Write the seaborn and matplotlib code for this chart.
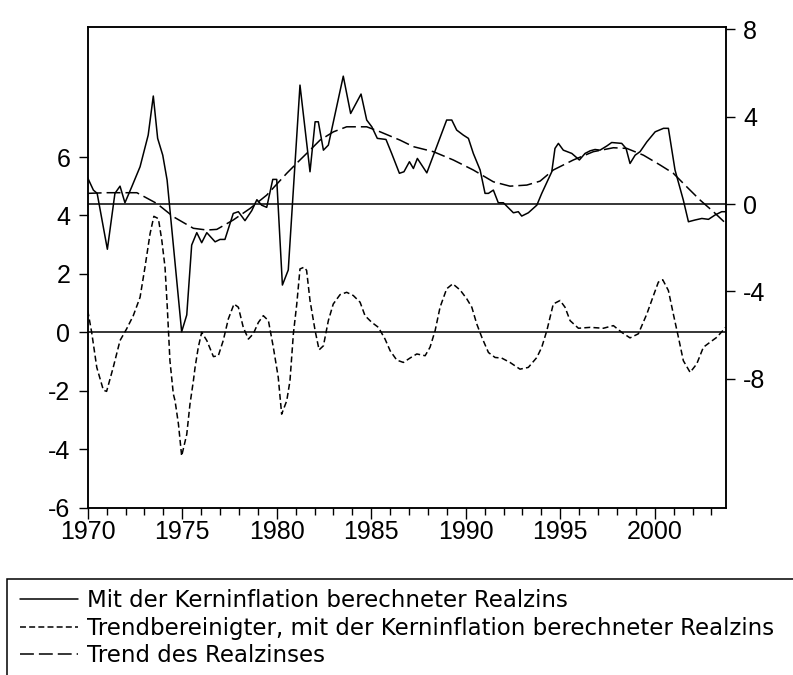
import pandas as pd
import seaborn as sns
import matplotlib.pyplot as plt
from matplotlib.lines import Line2D
from matplotlib.patches import Rectangle

# Mit der Kerninflation berechneter Realzins (rechte Achse)
real_t = [1970.0, 1970.3, 1970.5, 1971.04, 1971.44, 1971.71, 1971.97, 1972.33, 1972.77,
          1973.2, 1973.47, 1973.7, 1973.97, 1974.2, 1974.97, 1975.24, 1975.5, 1975.77,
          1976.03, 1976.3, 1976.74, 1977.0, 1977.26, 1977.7, 1977.97, 1978.32, 1978.68,
          1978.95, 1979.2, 1979.47, 1979.79, 1980.0, 1980.3, 1980.61, 1981.23, 1981.76,
          1982.03, 1982.2, 1982.47, 1982.73, 1983.52, 1983.91, 1984.46, 1984.76, 1985.03,
          1985.32, 1985.78, 1986.08, 1986.49, 1986.73, 1987.02, 1987.23, 1987.44, 1987.94,
          1988.99, 1989.26, 1989.52, 1989.87, 1990.14, 1990.4, 1990.76, 1991.02, 1991.2,
          1991.46, 1991.72, 1991.99, 1992.52, 1992.78, 1992.96, 1993.31, 1993.76, 1994.02,
          1994.55, 1994.72, 1994.9, 1995.16, 1995.61, 1996.01, 1996.31, 1996.58, 1996.84,
          1997.1, 1997.46, 1997.72, 1998.25, 1998.48, 1998.69, 1998.96, 1999.22, 1999.58,
          2000.02, 2000.46, 2000.72, 2001.07, 2001.51, 2001.78, 2002.13, 2002.49, 2002.84,
          2003.19, 2003.54, 2003.75]
real_v = [1.2, 0.64, 0.49, -2.07, 0.49, 0.82, 0.06, 0.79, 1.71,
          3.16, 4.95, 3.01, 2.24, 1.1, -5.85, -5.08, -1.88, -1.31,
          -1.77, -1.31, -1.73, -1.62, -1.62, -0.43, -0.35, -0.76, -0.3,
          0.2, -0.05, -0.15, 1.13, 1.13, -3.71, -3.02, 5.45, 1.48,
          3.77, 3.77, 2.47, 2.7, 5.86, 4.15, 5.04, 3.85, 3.54,
          3.01, 2.96, 2.32, 1.41, 1.48, 1.94, 1.63, 2.09, 1.43,
          3.85, 3.85, 3.39, 3.16, 3.01, 2.32, 1.56, 0.49, 0.49,
          0.64, 0.06, 0.06, -0.4, -0.35, -0.55, -0.4, -0.05, 0.49,
          1.48, 2.55, 2.78, 2.47, 2.32, 2.02, 2.32, 2.44, 2.5,
          2.47, 2.66, 2.82, 2.78, 2.55, 1.86, 2.24, 2.4, 2.85,
          3.31, 3.47, 3.47, 1.56, 0.18, -0.81, -0.73, -0.66, -0.7,
          -0.5, -0.35, -0.35]

# Trend des Realzinses (rechte Achse)
trend_t = [1970.0, 1971.0, 1972.6, 1973.65, 1974.53, 1975.59, 1976.3, 1976.83, 1977.7,
           1978.59, 1979.47, 1980.53, 1981.23, 1981.76, 1982.29, 1983.0, 1983.7, 1984.76,
           1985.47, 1986.52, 1987.23, 1988.29, 1989.34, 1990.4, 1991.46, 1992.34, 1993.23,
           1993.93, 1994.63, 1995.69, 1996.75, 1997.81, 1998.52, 1999.4, 2000.28, 2000.98,
           2001.69, 2002.4, 2003.1, 2003.75]
trend_v = [0.49, 0.52, 0.52, 0.03, -0.58, -1.11, -1.19, -1.16, -0.73,
           -0.2, 0.41, 1.41, 2.02, 2.47, 2.93, 3.31, 3.54, 3.54,
           3.31, 2.93, 2.63, 2.4, 2.02, 1.56, 1.02, 0.82, 0.87,
           1.05, 1.56, 2.02, 2.4, 2.58, 2.55, 2.24, 1.79, 1.41,
           0.79, 0.18, -0.35, -0.88]

# Trendbereinigter Realzins (linke Achse)
detr_t = [1970.0, 1970.21, 1970.48, 1970.83, 1971.0, 1971.35, 1971.71, 1972.06, 1972.41,
          1972.77, 1973.03, 1973.3, 1973.5, 1973.74, 1973.92, 1974.09, 1974.21, 1974.35,
          1974.53, 1974.62, 1974.8, 1974.97, 1975.24, 1975.41, 1975.59, 1975.68, 1975.85,
          1976.03, 1976.3, 1976.65, 1976.91, 1977.17, 1977.44, 1977.74, 1977.97, 1978.23,
          1978.5, 1978.76, 1979.03, 1979.29, 1979.56, 1979.82, 1980.08, 1980.26, 1980.53,
          1980.7, 1980.88, 1981.06, 1981.23, 1981.45, 1981.58, 1981.76, 1982.03, 1982.24,
          1982.47, 1982.73, 1982.99, 1983.35, 1983.7, 1984.05, 1984.41, 1984.67, 1985.03,
          1985.38, 1985.73, 1986.0, 1986.35, 1986.7, 1987.05, 1987.41, 1987.85, 1988.11,
          1988.38, 1988.64, 1988.99, 1989.31, 1989.7, 1990.05, 1990.32, 1990.58, 1990.85,
          1991.2, 1991.55, 1991.9, 1992.34, 1992.87, 1993.31, 1993.76, 1994.02, 1994.29,
          1994.63, 1994.99, 1995.25, 1995.52, 1995.96, 1996.58, 1997.28, 1997.81, 1998.25,
          1998.69, 1999.13, 1999.58, 1999.93, 2000.19, 2000.42, 2000.72, 2000.98, 2001.25,
          2001.51, 2001.87, 2002.22, 2002.57, 2002.92, 2003.28, 2003.75]
detr_v = [0.75, 0.0, -1.2, -1.98, -2.02, -1.2, -0.28, 0.12, 0.57,
          1.2, 2.23, 3.38, 3.97, 3.89, 3.15, 2.23, 0.86, -0.97,
          -2.11, -2.34, -3.14, -4.23, -3.49, -2.46, -1.66, -1.2, -0.51,
          0.0, -0.28, -0.83, -0.8, -0.28, 0.46, 0.97, 0.86, 0.17,
          -0.23, -0.05, 0.34, 0.57, 0.4, -0.51, -1.54, -2.8, -2.34,
          -1.66, -0.05, 0.97, 2.17, 2.23, 2.12, 1.09, 0.06, -0.6,
          -0.46, 0.4, 0.97, 1.29, 1.37, 1.26, 1.03, 0.57, 0.34,
          0.17, -0.23, -0.63, -0.95, -1.03, -0.88, -0.74, -0.8, -0.51,
          0.06, 0.86, 1.49, 1.66, 1.45, 1.15, 0.86, 0.29, -0.17,
          -0.69, -0.86, -0.88, -1.03, -1.26, -1.2, -0.86, -0.51, 0.06,
          0.97, 1.09, 0.86, 0.4, 0.14, 0.17, 0.14, 0.23, 0.0,
          -0.19, -0.05, 0.63, 1.26, 1.72, 1.8, 1.43, 0.63, -0.17,
          -0.97, -1.37, -1.08, -0.51, -0.34, -0.17, 0.17]

labels = ['Mit der Kerninflation berechneter Realzins',
          'Trendbereinigter, mit der Kerninflation berechneter Realzins',
          'Trend des Realzinses']

real = pd.DataFrame({'t': real_t, 'v': real_v})
trend = pd.DataFrame({'t': trend_t, 'v': trend_v})
detr = pd.DataFrame({'t': detr_t, 'v': detr_v})

sns.set_style('ticks')
plt.rcParams['font.family'] = ['Liberation Sans', 'DejaVu Sans']
plt.rcParams['lines.scale_dashes'] = False
plt.rcParams['axes.unicode_minus'] = False

short_dash = (0, (4.3, 2.3))
long_dash = (0, (10, 3.6))

fig = plt.figure(figsize=(7.93, 6.75), dpi=100)
ax = fig.add_axes([0.1106, 0.2479, 0.8045, 0.7117])
ax2 = ax.twinx()

# linke Achse: trendbereinigt
sns.lineplot(data=detr, x='t', y='v', ax=ax, color='black', lw=1.1,
             linestyle=short_dash, sort=False, errorbar=None)
ax.axhline(0, color='black', lw=1.1)

# rechte Achse: Realzins und Trend
sns.lineplot(data=real, x='t', y='v', ax=ax2, color='black', lw=1.1,
             sort=False, errorbar=None)
sns.lineplot(data=trend, x='t', y='v', ax=ax2, color='black', lw=1.1,
             linestyle=long_dash, sort=False, errorbar=None)
ax2.axhline(0, color='black', lw=1.1)

ax.set_xlim(1970, 2003.75)
ax.set_ylim(-6, 10.44)
ax2.set_ylim(-13.91, 8.1)

ax.set_xticks(range(1970, 2001, 5))
ax.set_xticks(range(1971, 2004), minor=True)
ax.set_yticks(range(-6, 7, 2))
ax2.set_yticks([-8, -4, 0, 4, 8])
for a in (ax, ax2):
    a.set_xlabel('')
    a.set_ylabel('')
    for s in a.spines.values():
        s.set_color('black')
        s.set_linewidth(1.1)

ax.tick_params(axis='x', which='major', length=8, width=1, pad=1,
               labelsize=18, color='black', labelcolor='black')
ax.tick_params(axis='x', which='minor', length=5, width=1, color='black')
ax.tick_params(axis='y', length=6.5, width=1, pad=6, labelsize=18,
               color='black', labelcolor='black')
ax2.tick_params(axis='y', length=6.5, width=1, pad=6, labelsize=18,
                color='black', labelcolor='black')

# Legende unter dem Diagramm
fig.patches.append(Rectangle((7 / 793, -0.1), 1.0, 1 - 579 / 675 + 0.1,
                             transform=fig.transFigure, fill=False,
                             edgecolor='black', lw=1.1))
handles = [Line2D([], [], color='black', lw=1.1),
           Line2D([], [], color='black', lw=1.1, linestyle=short_dash),
           Line2D([], [], color='black', lw=1.1, linestyle=long_dash)]
fig.legend(handles, labels, loc='upper left',
           bbox_to_anchor=(20 / 793, 1 - 589 / 675), frameon=False,
           borderpad=0, borderaxespad=0, handlelength=2.55, handletextpad=0.39,
           labelspacing=0.2, labelcolor='black',
           prop={'family': 'DejaVu Sans', 'size': 16.5})

fig.savefig('out.png', dpi=100)
